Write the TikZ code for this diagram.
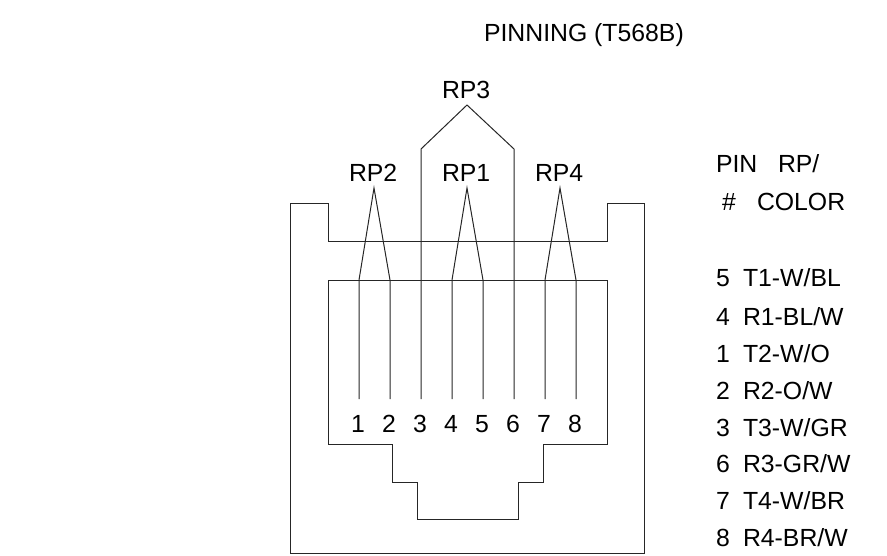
\documentclass[tikz,border=0pt]{standalone}
\usepackage{fontspec}
\setmainfont{Liberation Sans}
\tikzset{
  wire/.style={draw=black!85,line width=1pt,line join=miter},
  lbl/.style={anchor=base west,inner sep=0pt,outer sep=0pt,font=\fontsize{24.8}{28}\selectfont},
}
\begin{document}
\begin{tikzpicture}[x=1pt,y=-1pt]
\useasboundingbox (0,0) rectangle (887,555);
% housing
\draw[wire] (290.5,203) -- (328,203) -- (328,241) -- (607,241) -- (607,203) -- (644,203) -- (644,553) -- (290.5,553) -- cycle;
% contact block
\draw[wire] (328,280) -- (607,280) -- (607,444) -- (543,444) -- (543,482) -- (518,482) -- (518,519) -- (417,519) -- (417,482) -- (392,482) -- (392,444) -- (328,444) -- cycle;
% pins
\foreach \n/\x in {1/359,2/390,3/421,4/452,5/483,6/514,7/545,8/576}{
  \coordinate (pinb\n) at (\x,399);
  \coordinate (pint\n) at (\x,280);
}
\coordinate (rp2a) at (374,188);
\coordinate (rp1a) at (467,188);
\coordinate (rp4a) at (560,188);
\coordinate (rp3a) at (467,105);
\coordinate (rp3l) at (421,149);
\coordinate (rp3r) at (514,149);
\draw[wire] (pinb1) -- (pint1) -- (rp2a) -- (pint2) -- (pinb2);
\draw[wire] (pinb4) -- (pint4) -- (rp1a) -- (pint5) -- (pinb5);
\draw[wire] (pinb7) -- (pint7) -- (rp4a) -- (pint8) -- (pinb8);
\draw[wire] (pinb3) -- (rp3l) -- (rp3a) -- (rp3r) -- (pinb6);
% labels
\node[lbl] (title) at (484,41) {PINNING (T568B)};
\node[lbl] (rp3) at (442,98) {RP3};
\node[lbl] (rp2) at (349,181) {RP2};
\node[lbl] (rp1) at (442,181) {RP1};
\node[lbl] (rp4) at (535,181) {RP4};
\foreach \n/\x in {1/351,2/382,3/413,4/444,5/475,6/506,7/537,8/568}{
  \node[lbl] (d\n) at (\x,432) {\n};
}
\node[lbl] (hpin) at (716,172) {PIN};
\node[lbl] (hrp) at (778,172) {RP/};
\node[lbl] (hnum) at (722,210) {\#};
\node[lbl] (hcol) at (757,210) {COLOR};
\foreach \y/\p/\c in {286/5/T1-W\slash BL,325/4/R1-BL\slash W,362/1/T2-W\slash O,399/2/R2-O\slash W,436/3/T3-W\slash GR,472/6/R3-GR\slash W,509/7/T4-W\slash BR,546/8/R4-BR\slash W}{
  \node[lbl] (p\p) at (716,\y) {\p};
  \node[lbl] (c\p) at (743,\y) {\c};
}
\end{tikzpicture}
\end{document}
